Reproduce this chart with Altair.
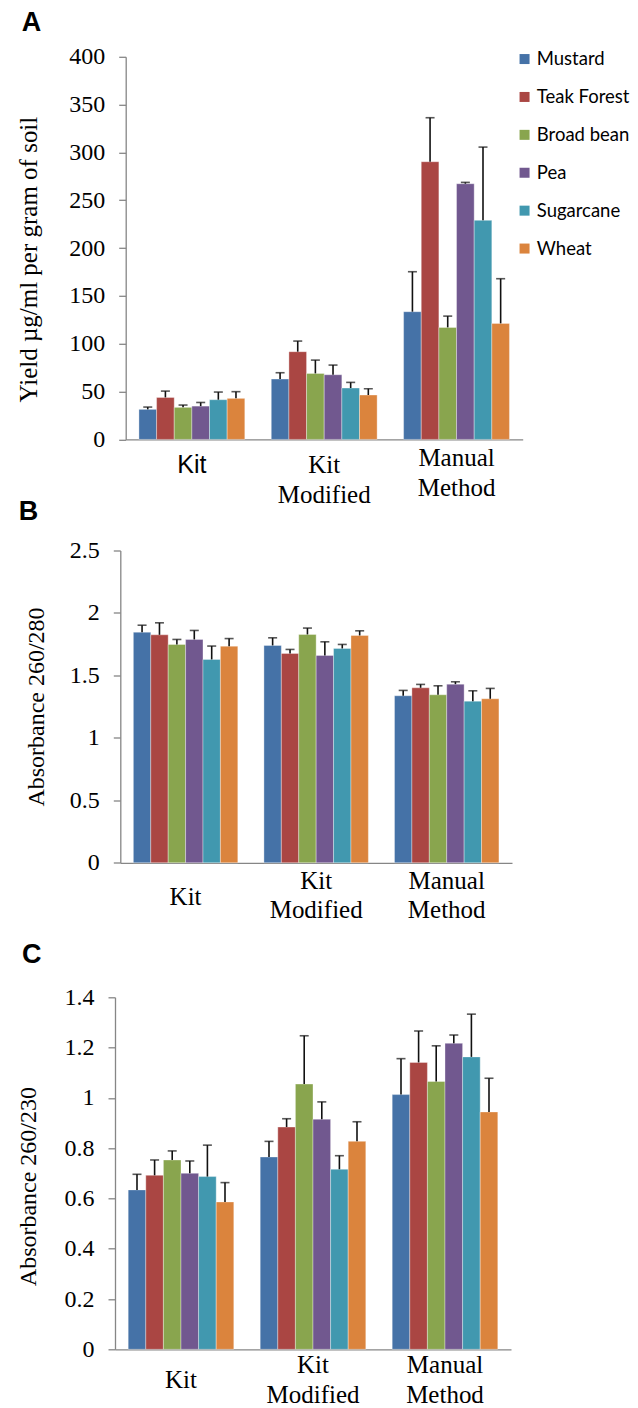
import altair as alt
import pandas as pd

categories = ["Kit", "Kit Modified", "Manual Method"]
series = ["Mustard", "Teak Forest", "Broad bean", "Pea", "Sugarcane", "Wheat"]
colors = ["#4572A7", "#AA4643", "#89A54E", "#71588F", "#4198AF", "#DB843D"]

# Panel A - yield (one list per category, series order as above)
yield_vals = [
    [31.4, 43.9, 33.5, 34.8, 41.5, 42.9],
    [63.1, 91.7, 69.0, 67.6, 53.7, 46.4],
    [133.5, 290.3, 117.1, 267.3, 229.0, 121.3],
]
yield_err = [
    [2.4, 6.6, 2.4, 3.8, 8.0, 7.0],
    [6.6, 11.1, 13.9, 10.1, 5.9, 6.6],
    [41.8, 46.0, 11.8, 1.4, 76.6, 46.7],
]
yield_ticks = [0, 50, 100, 150, 200, 250, 300, 350, 400]

# Panel B - absorbance 260/280
a280_vals = [
    [1.846, 1.825, 1.748, 1.788, 1.628, 1.734],
    [1.740, 1.676, 1.828, 1.660, 1.716, 1.820],
    [1.337, 1.401, 1.345, 1.430, 1.294, 1.313],
]
a280_err = [
    [0.056, 0.096, 0.040, 0.072, 0.107, 0.061],
    [0.061, 0.032, 0.051, 0.109, 0.032, 0.037],
    [0.043, 0.027, 0.072, 0.019, 0.083, 0.083],
]
a280_ticks = [0, 0.5, 1, 1.5, 2, 2.5]

# Panel C - absorbance 260/230
a230_vals = [
    [0.634, 0.692, 0.753, 0.700, 0.687, 0.586],
    [0.765, 0.884, 1.055, 0.915, 0.716, 0.827],
    [1.013, 1.141, 1.065, 1.217, 1.163, 0.944],
]
a230_err = [
    [0.062, 0.061, 0.036, 0.049, 0.125, 0.077],
    [0.062, 0.033, 0.192, 0.069, 0.054, 0.078],
    [0.143, 0.125, 0.142, 0.033, 0.170, 0.134],
]
a230_ticks = [0, 0.2, 0.4, 0.6, 0.8, 1, 1.2, 1.4]


def make_df(vals, errs):
    rows = []
    for c, vs, es in zip(categories, vals, errs):
        for s, v, e in zip(series, vs, es):
            rows.append({"cat": c, "series": s, "val": v, "top": v + e})
    return pd.DataFrame(rows)


SERIF = "Liberation Serif"
SANS = "Liberation Sans"


def cond(test, yes, no):
    return {"condition": {"test": test, "value": yes}, "value": no}


def panel(df, letter, ymax, yticks, ytitle, width, height, shift,
          title_x, title_y, title_size, letter_x, letter_y, xaxis_kw, legend):
    xscale = alt.Scale(domain=categories, range=[shift, width],
                       paddingInner=0.2, paddingOuter=0.1)
    xaxis = alt.Axis(title=None, ticks=False, labelAngle=0, labelBaseline="middle",
                     labelExpr="datum.value == 'Kit' ? 'Kit' : split(datum.value, ' ')",
                     labelFontSize=25, **xaxis_kw)
    x = alt.X("cat:N", sort=categories, scale=xscale, axis=xaxis)
    xo = alt.XOffset("series:N", sort=series, scale=alt.Scale(domain=series))
    yaxis = alt.Axis(title=ytitle, values=yticks, labelExpr="'' + datum.value",
                     offset=-shift, tickSize=7, labelPadding=14, labelFontSize=24,
                     titleFontSize=title_size, titleAngle=-90, titleAlign="center",
                     titleBaseline="middle", titleX=title_x, titleY=title_y,
                     grid=False)
    yscale = alt.Scale(domain=[0, ymax], nice=False)
    y_val = alt.Y("val:Q", scale=yscale, axis=yaxis)
    y_top = alt.Y("top:Q", scale=yscale, axis=yaxis)
    color = alt.Color("series:N", sort=series,
                      scale=alt.Scale(domain=series, range=colors),
                      legend=legend)
    base = alt.Chart(df)
    bars = base.mark_bar(stroke="white", strokeWidth=1, strokeOpacity=0.35).encode(
        x=x, xOffset=xo, y=y_val, color=color)
    rules = base.mark_rule(color="#111111", strokeWidth=1.6).encode(
        x=x, xOffset=xo, y=y_val, y2="top:Q")
    caps = base.mark_tick(color="#111111", thickness=1.6, size=9, orient="horizontal").encode(
        x=x, xOffset=xo, y=y_top)
    lab = alt.Chart(pd.DataFrame({"t": [letter]})).mark_text(
        font=SANS, fontWeight="bold", fontSize=27, align="left",
        baseline="top", color="black").encode(
        text="t:N", x=alt.value(letter_x), y=alt.value(letter_y))
    return alt.layer(bars, rules, caps, lab).properties(width=width, height=height)


legendA = alt.Legend(title=None, orient="none", legendX=400.3, legendY=-7, offset=0,
                     symbolType="square", symbolSize=100, symbolStrokeWidth=0,
                     labelFont="Lato", labelFontSize=18.5, labelColor="black",
                     labelOffset=3, rowPadding=18.9, padding=0)

is_kit = "datum.value == 'Kit'"
is_manual = "datum.value == 'Manual Method'"
pA = panel(make_df(yield_vals, yield_err), "A", 400, yield_ticks,
           "Yield µg/ml per gram of soil", 407.7, 382.6, 10.7,
           -97.7, 202.3, 25, -93.3, -46.7,
           dict(labelLineHeight=30,
                labelFont=cond(is_kit, SANS, SERIF),
                labelPadding=cond(is_manual, 18.2, 24.7)),
           legendA)
pB = panel(make_df(a280_vals, a280_err), "B", 2.5, a280_ticks,
           "Absorbance 260/280", 397, 312.3, 5.3,
           -84, 156, 24, -96.3, -51,
           dict(labelLineHeight=29.5, labelFont=SERIF,
                labelPadding=cond(is_kit, 34, 17.5)),
           None)
pC = panel(make_df(a230_vals, a230_err), "C", 1.4, a230_ticks,
           "Absorbance 260/230", 396, 352, 0,
           -87, 188.8, 24, -93, -55.7,
           dict(labelLineHeight=30, labelFont=SERIF,
                labelPadding=cond(is_kit, 30, 15)),
           None)

top = alt.vconcat(pA, pB, spacing=-9.3).resolve_scale(
    color="independent", xOffset="independent")
chart = alt.vconcat(top, pC, spacing=17.5).resolve_scale(
    color="independent", xOffset="independent").properties(
    padding={"left": 7, "top": 0.8, "right": -1, "bottom": 0}
).configure_axis(
    domainColor="#868686", tickColor="#868686", domainWidth=1.3, tickWidth=1.3,
    labelColor="black", titleColor="black", labelFont=SERIF, titleFont=SERIF,
    titleFontWeight="normal"
).configure_view(stroke=None)

chart.save("out.html", embed_options={"renderer": "svg", "actions": False})
